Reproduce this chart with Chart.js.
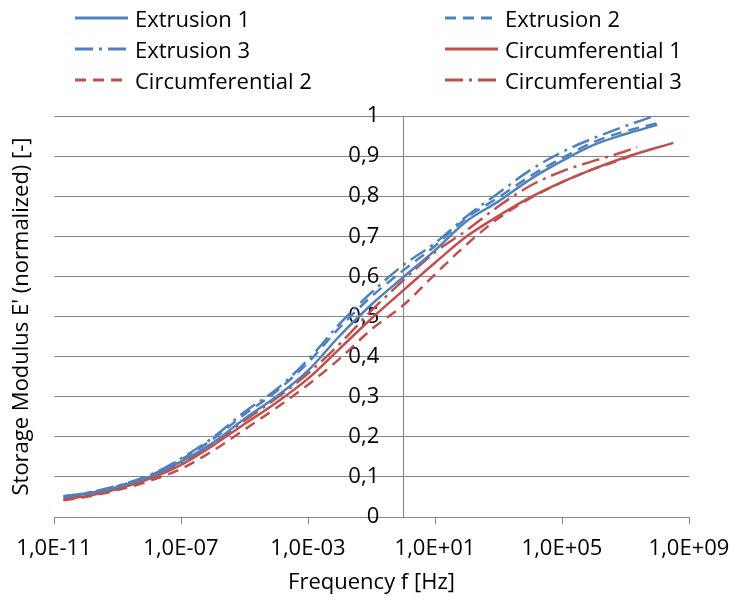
<!DOCTYPE html>
<html>
<head>
<meta charset="utf-8">
<script src="https://cdn.jsdelivr.net/npm/chart.js@4.4.0/dist/chart.umd.min.js"></script>
<style>
  html, body { margin: 0; padding: 0; background: #fff; }
  #wrap { position: relative; width: 733px; height: 600px; }
  #myChart { position: absolute; left: 0; top: 0; }
  #legend {
    position: absolute; left: 75px; top: 2px; width: 740px;
    display: flex; flex-wrap: wrap;
    font-family: 'Open Sans', sans-serif; font-size: 22px; color: #000;
  }
  .item { width: 370px; height: 31px; display: flex; align-items: center; white-space: nowrap; }
  .item svg { margin-right: 7px; flex: none; }
</style>
</head>
<body>
<div id="wrap">
  <canvas id="myChart" width="733" height="600"></canvas>
  <div id="legend"></div>
</div>
<script>
// frequencies [Hz] shared by all curves
const freq = [2e-11, 1e-10, 1e-9, 1e-8, 1e-7, 1e-6, 1e-5, 1e-4, 1e-3, 1e-2, 1e-1, 1, 1e1, 1e2, 1e3, 1e4, 1e5, 1e6, 1e7];

// normalized storage modulus
const extrusion1 = [0.050, 0.058, 0.075, 0.100, 0.138, 0.185, 0.245, 0.300, 0.365, 0.452, 0.530, 0.598, 0.665, 0.738, 0.787, 0.842, 0.888, 0.928, 0.955];
const extrusion2 = [0.051, 0.059, 0.077, 0.103, 0.143, 0.194, 0.256, 0.313, 0.385, 0.473, 0.550, 0.615, 0.676, 0.746, 0.797, 0.850, 0.895, 0.935, 0.962];
const extrusion3 = [0.052, 0.060, 0.078, 0.104, 0.146, 0.198, 0.262, 0.318, 0.392, 0.482, 0.560, 0.628, 0.683, 0.750, 0.808, 0.865, 0.910, 0.945, 0.975];
const circumferential1 = [0.043, 0.052, 0.070, 0.095, 0.130, 0.178, 0.232, 0.285, 0.345, 0.420, 0.495, 0.565, 0.634, 0.700, 0.751, 0.797, 0.835, 0.868, 0.897];
const circumferential2 = [0.042, 0.050, 0.067, 0.090, 0.120, 0.165, 0.218, 0.272, 0.330, 0.395, 0.468, 0.528, 0.605, 0.680, 0.745, 0.795, 0.835, 0.868, 0.895];
const circumferential3 = [0.045, 0.054, 0.072, 0.098, 0.135, 0.183, 0.240, 0.296, 0.358, 0.432, 0.515, 0.590, 0.660, 0.715, 0.775, 0.826, 0.862, 0.888, 0.912];

// last measured point of each curve (they stop at different frequencies)
const endFreq = [1e8, 1.3e8, 6.8e7, 3.2e8, 1.6e7, 2.3e7];
const endValue = [0.978, 0.984, 0.998, 0.933, 0.902, 0.923];

const seriesNames = ['Extrusion 1', 'Extrusion 2', 'Extrusion 3', 'Circumferential 1', 'Circumferential 2', 'Circumferential 3'];

const xTickValues = [1e-11, 1e-7, 1e-3, 1e1, 1e5, 1e9];
const xTickLabels = ['1,0E-11', '1,0E-07', '1,0E-03', '1,0E+01', '1,0E+05', '1,0E+09'];
const yTickValues = [0, 0.1, 0.2, 0.3, 0.4, 0.5, 0.6, 0.7, 0.8, 0.9, 1];
const yTickLabels = ['0', '0,1', '0,2', '0,3', '0,4', '0,5', '0,6', '0,7', '0,8', '0,9', '1'];

const xTitle = 'Frequency f [Hz]';
const yTitle = "Storage Modulus E' (normalized) [-]";

const blue = '#4F81BD';
const red = '#C0504D';
const solid = [];
const dashed = [11, 7];
const dashDot = [18, 6, 3, 6];

const allValues = [extrusion1, extrusion2, extrusion3, circumferential1, circumferential2, circumferential3];
const colors = [blue, blue, blue, red, red, red];
const dashes = [solid, dashed, dashDot, solid, dashed, dashDot];

function points(values, i) {
  const pts = freq.map((f, k) => ({ x: f, y: values[k] }));
  pts.push({ x: endFreq[i], y: endValue[i] });
  return pts;
}

const datasets = allValues.map((vals, i) => ({
  label: seriesNames[i],
  data: points(vals, i),
  borderColor: colors[i],
  borderWidth: 2.5,
  borderDash: dashes[i],
  pointRadius: 0,
  fill: false,
  cubicInterpolationMode: 'monotone'
}));

const font = { family: 'Open Sans', size: 22 };
const gridColor = '#868686';

const ctx = document.getElementById('myChart').getContext('2d');
const myChart = new Chart(ctx, {
  type: 'line',
  data: { datasets: datasets },
  options: {
    responsive: false,
    animation: false,
    layout: { padding: { top: 116, right: 44, bottom: 0, left: 0 } },
    plugins: { legend: { display: false }, tooltip: { enabled: false } },
    scales: {
      x: {
        type: 'logarithmic',
        position: 'bottom',
        min: 1e-11,
        max: 1e9,
        afterBuildTicks: s => { s.ticks = xTickValues.map(v => ({ value: v })); },
        afterFit: s => { s.height = 83; s.paddingLeft = 0; s.paddingRight = 0; },
        ticks: {
          callback: (v, i) => xTickLabels[i],
          autoSkip: false, maxRotation: 0, padding: 12,
          color: '#000', font: font
        },
        grid: { drawOnChartArea: false, drawTicks: true, tickLength: 7, color: gridColor },
        border: { color: gridColor, width: 1 },
        title: { display: true, text: xTitle, color: '#000', font: font, padding: { top: 4, bottom: 4 } }
      },
      // value axis: gridlines and the vertical line crossing at f = 1 Hz
      y: {
        type: 'linear',
        position: { x: 1 },
        min: 0,
        max: 1,
        afterBuildTicks: s => { s.ticks = yTickValues.map(v => ({ value: v })); },
        ticks: { display: false },
        grid: { color: gridColor, drawTicks: false },
        border: { color: gridColor, width: 1 }
      },
      // tick labels of the value axis, sitting a bit left of the crossing line
      yLabels: {
        type: 'linear',
        position: { x: 0.175 },
        min: 0,
        max: 1,
        afterBuildTicks: s => { s.ticks = yTickValues.map(v => ({ value: v })); },
        ticks: { callback: (v, i) => yTickLabels[i], color: '#000', font: font },
        grid: { display: false, drawTicks: false },
        border: { display: false }
      },
      yTitle: {
        type: 'linear',
        position: 'left',
        min: 0,
        max: 1,
        afterFit: s => { s.width = 54; },
        ticks: { display: false },
        grid: { display: false, drawTicks: false },
        border: { display: false },
        title: { display: true, text: yTitle, color: '#000', font: font, padding: { top: 9, bottom: 0 } }
      }
    }
  }
});

// legend in two columns, built from the chart's datasets
const legend = document.getElementById('legend');
myChart.data.datasets.forEach(ds => {
  const item = document.createElement('div');
  item.className = 'item';
  const dash = ds.borderDash.length ? ds.borderDash.join(' ') : 'none';
  item.innerHTML = `
    <svg width="53" height="6"><line x1="0" y1="3" x2="53" y2="3" stroke="${ds.borderColor}" stroke-width="3" stroke-dasharray="${dash}"/></svg>
    <span>${ds.label}</span>`;
  legend.appendChild(item);
});
</script>
</body>
</html>
